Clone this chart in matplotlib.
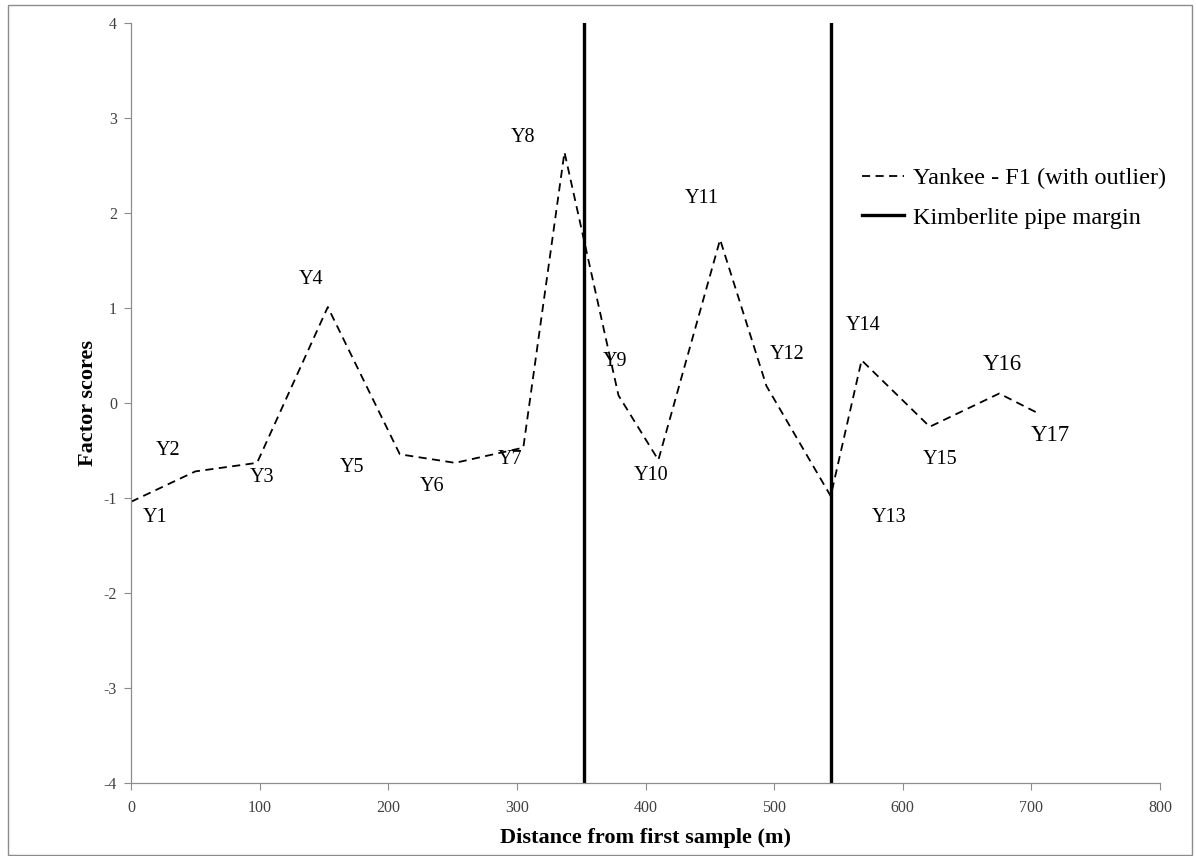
import matplotlib
matplotlib.use("Agg")
import matplotlib.pyplot as plt
from matplotlib.patches import Rectangle

plt.rcParams['font.family'] = ['Liberation Serif', 'DejaVu Serif']

# Data
sample_names = ["Y1", "Y2", "Y3", "Y4", "Y5", "Y6", "Y7", "Y8", "Y9",
                "Y10", "Y11", "Y12", "Y13", "Y14", "Y15", "Y16", "Y17"]
distance_m = [0, 50, 98, 153, 209, 252, 305, 337, 379,
              410, 458, 494, 544, 568, 621, 675, 707]
factor_scores = [-1.04, -0.72, -0.63, 1.01, -0.54, -0.63, -0.47, 2.64, 0.08,
                 -0.60, 1.72, 0.18, -0.98, 0.45, -0.25, 0.10, -0.12]
# label anchor positions (data coords)
label_x = [19, 29, 102, 140, 172, 234, 295, 305, 376,
           404, 444, 510, 589, 569, 629, 677, 715]
label_y = [-1.21, -0.50, -0.78, 1.30, -0.68, -0.88, -0.60, 2.79, 0.44,
           -0.76, 2.15, 0.51, -1.21, 0.82, -0.59, 0.40, -0.34]
label_sizes = [14.5] * 15 + [16.5, 16.5]
pipe_margins = [352, 544]
x_ticks = [0, 100, 200, 300, 400, 500, 600, 700, 800]
y_ticks = [-4, -3, -2, -1, 0, 1, 2, 3, 4]

fig = plt.figure(figsize=(11.96, 8.56), dpi=100)
ax = fig.add_axes([131/1196, 1 - 783/856, (1160-131)/1196, (783-23)/856])

W, H = 1196, 856
fig.patches.append(Rectangle((8/W, 1 - 855/H), (1192-8)/W, (855-5)/H,
                             transform=fig.transFigure, fill=False,
                             edgecolor='#8c8c8c', linewidth=1.0))

ax.plot(distance_m, factor_scores, color='black', linewidth=1.3,
        linestyle=(0, (4.5, 3)), label='Yankee - F1 (with outlier)')
for i, xm in enumerate(pipe_margins):
    ax.axvline(xm, color='black', linewidth=2.4,
               label='Kimberlite pipe margin' if i == 0 else None)

for name, lx, ly, s in zip(sample_names, label_x, label_y, label_sizes):
    ax.text(lx, ly, name, ha='center', va='center', fontsize=s, color='black')

ax.set_xlim(0, 800)
ax.set_ylim(-4, 4)
ax.set_xticks(x_ticks)
ax.set_yticks(y_ticks)
ax.set_xticklabels([str(t) for t in x_ticks])
ax.set_yticklabels([str(t) for t in y_ticks])
ax.tick_params(axis='both', direction='out', length=5, width=0.8,
               color='#8c8c8c', labelsize=11.5, labelcolor='#404040')
ax.tick_params(axis='x', pad=7)
ax.tick_params(axis='y', pad=5)
for side in ['top', 'right']:
    ax.spines[side].set_visible(False)
for side in ['left', 'bottom']:
    ax.spines[side].set_color('#8c8c8c')
    ax.spines[side].set_linewidth(0.9)

ax.set_xlabel('Distance from first sample (m)', fontsize=16, fontweight='bold', labelpad=9)
ax.set_ylabel('Factor scores', fontsize=16, fontweight='bold', labelpad=4)

leg = ax.legend(loc='upper left', bbox_to_anchor=(0.710, 0.810), frameon=False,
                fontsize=17.5, handlelength=1.75, handletextpad=0.35,
                labelspacing=0.72, borderaxespad=0, borderpad=0)

fig.savefig('out.png', dpi=100)
